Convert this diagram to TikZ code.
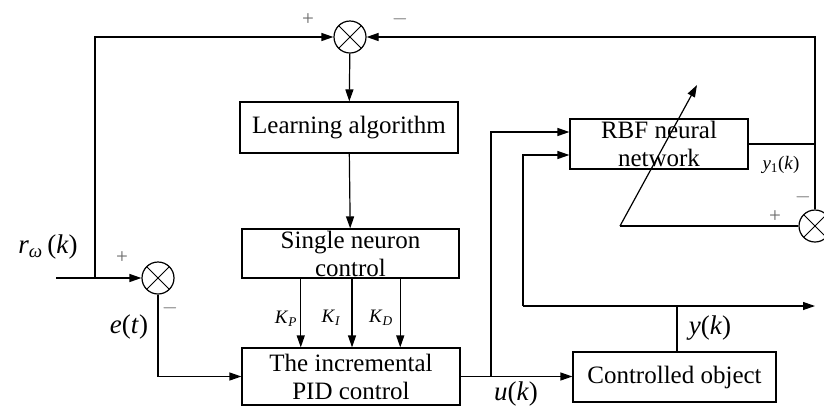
\documentclass[tikz,border=0pt]{standalone}
\usepackage{fontspec}
\setmainfont{Liberation Serif}
\usetikzlibrary{arrows.meta,calc}

\tikzset{
  wire/.style={line width=1.2pt},
  block/.style={draw, line width=1.2pt, inner sep=0pt, align=center,
    font=\fontsize{25}{28}\selectfont},
  summer/.style={draw, circle, line width=1.2pt, minimum size=32pt, inner sep=0pt,
    path picture={\draw[line width=0.9pt]
      (path picture bounding box.north west) -- (path picture bounding box.south east)
      (path picture bounding box.north east) -- (path picture bounding box.south west);}},
  sig/.style={font=\fontsize{27}{27}\selectfont},
  gain/.style={font=\fontsize{19}{19}\selectfont},
  sign/.style={text=black!60, font=\fontsize{21}{21}\selectfont},
  >={Triangle[length=12pt,width=8pt]}
}

\begin{document}
\begin{tikzpicture}[x=1pt,y=-1pt]
    \useasboundingbox (0,0) rectangle (824,408);
    % summing junctions
    \node[summer] (s1) at (350,37) {};
    \node[summer] (s2) at (158,278) {};
    \node[summer] (s3) at (815,226) {};
    % blocks
    \node[block, minimum width=218pt, minimum height=51pt] (learn) at (349,127.5) {Learning algorithm};
    \node[block, minimum width=217pt, minimum height=49pt] (neuron) at (350.5,253.5) {Single neuron\\control};
    \node[block, minimum width=218pt, minimum height=57pt] (pid) at (351,376.5) {The incremental\\PID control};
    \node[block, minimum width=178pt, minimum height=50pt] (rbf) at (659,144) {RBF neural\\network};
    \node[block, minimum width=203pt, minimum height=50pt] (plant) at (674.5,377) {Controlled object};

    \coordinate (rin) at (56,278);
    \coordinate (rj) at (95,278);
    \coordinate (uj) at (491,376.5);
    \coordinate (yj) at (677,306);
    \coordinate (yl) at (523,306);
    \coordinate (yout) at (815,306);
    \coordinate (tr) at (815,37);
    \coordinate (wb) at (620,226);
    \coordinate (wt) at (697,85);

    % reference path and learning loop
    \draw[wire,->] (rin) -- (s2);
    \draw[wire,->] (rj) |- (s1);
    \draw[wire,->] (s1) -- (learn);
    \draw[wire,->] (learn) -- (neuron);
    \foreach \t in {0.272,0.507,0.728}
        \draw[wire,->] ($(neuron.south west)!\t!(neuron.south east)$) coordinate (k) -- (k |- pid.north);
    \draw[wire,->] (s2) |- (pid.west);
    \draw[wire,->] (pid.east) -- (pid.east -| plant.west);
    % identifier inputs and output
    \draw[wire,->] (uj) |- ($(rbf.west)+(0,-12)$);
    \draw[wire] (yj |- plant.north) -- (yj);
    \draw[wire,->] (yl) -- (yout);
    \draw[wire,->] (yl) |- ($(rbf.west)+(0,11)$);
    \draw[wire] (rbf.east) -- (rbf.east -| s3);
    \draw[wire,->] (s3) -- (tr) -- (s1);
    \draw[wire] (wb) -- (s3);
    \draw[wire,->] (wb) -- (wt);

    % signals
    \node[sig] at (48,247) {\textit{r}\textsubscript{\textit{ω}}\,(\textit{k})};
    \node[sig] at (129,327) {\textit{e}(\textit{t})};
    \node[sig] at (516,394) {\textit{u}(\textit{k})};
    \node[sig] at (710,328) {\textit{y}(\textit{k})};
    \node[gain] at (781,165) {\textit{y}\textsubscript{1}(\textit{k})};
    \node[gain] at (286,319) {\textit{K}\textsubscript{\textit{P}}};
    \node[gain] at (331,318) {\textit{K}\textsubscript{\textit{I}}};
    \node[gain] at (381,318) {\textit{K}\textsubscript{\textit{D}}};
    % signs
    \node[sign] at (308,20) {+};
    \node[sign] at (400,19) {$-$};
    \node[sign] at (122,258) {+};
    \node[sign] at (170,308) {$-$};
    \node[sign] at (775,217) {+};
    \node[sign] at (803,197) {$-$};
\end{tikzpicture}
\end{document}
